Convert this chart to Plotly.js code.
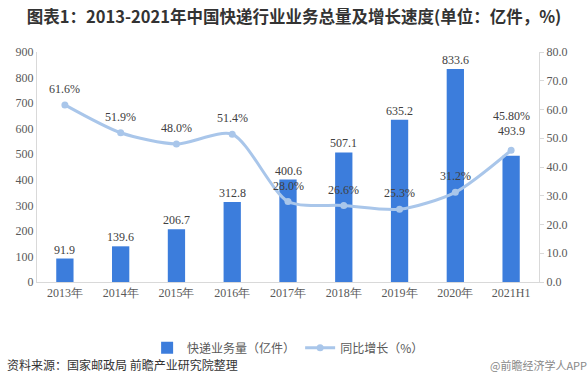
<!DOCTYPE html>
<html>
<head>
<meta charset="utf-8">
<script src="https://cdn.plot.ly/plotly-3.0.1.min.js"></script>
<style>html,body{margin:0;padding:0;background:#fff;}#chart{width:588px;height:381px;}</style>
</head>
<body>
<div id="chart"></div>
<script>
const categories = ['2013年','2014年','2015年','2016年','2017年','2018年','2019年','2020年','2021H1'];
const volume = [91.9, 139.6, 206.7, 312.8, 400.6, 507.1, 635.2, 833.6, 493.9];
const growth = [61.6, 51.9, 48.0, 51.4, 28.0, 26.6, 25.3, 31.2, 45.8];
const growthLabels = ['61.6%','51.9%','48.0%','51.4%','28.0%','26.6%','25.3%','31.2%','45.80%'];
const leftTicks = [0,100,200,300,400,500,600,700,800,900];
const rightTicks = [0,10,20,30,40,50,60,70,80];

const serif = '"Liberation Serif", "Times New Roman", serif';
const cjk = '"Noto Sans CJK SC", sans-serif';

const bars = {
  type: 'bar', name: '快递业务量（亿件）',
  x: categories, y: volume,
  marker: {color: '#3c7ddc'},
  width: 0.31,
  hoverinfo: 'skip'
};
const line = {
  type: 'scatter', name: '同比增长（%）',
  x: categories, y: growth, yaxis: 'y2',
  mode: 'lines+markers',
  line: {color: '#a9c6ea', width: 3, shape: 'spline', smoothing: 0.75},
  marker: {color: '#a9c6ea', size: 7},
  cliponaxis: false,
  hoverinfo: 'skip'
};

const labelFont = {family: serif, size: 12, color: '#404040'};
const last = categories.length - 1;
const barLabels = categories.map((c, i) => ({
  x: c, y: volume[i], xref: 'x', yref: 'y', text: volume[i].toFixed(1),
  showarrow: false, yanchor: 'bottom', yshift: i === last ? 16 : 0, font: labelFont
}));
const lineLabels = categories.map((c, i) => ({
  x: c, y: growth[i], xref: 'x', yref: 'y2', text: growthLabels[i],
  showarrow: false, yanchor: 'bottom', yshift: i === last ? 25 : 7, font: labelFont
}));

const layout = {
  width: 588, height: 381,
  margin: {l: 37, r: 49, t: 52, b: 99},
  paper_bgcolor: '#fff', plot_bgcolor: '#fff',
  title: {text: '<b>图表1：2013-2021年中国快递行业业务总量及增长速度(单位：亿件，%)</b>',
          font: {family: cjk, size: 16.5, color: '#333'}, x: 0.5, xanchor: 'center', y: 0.955, yanchor: 'middle'},
  xaxis: {showline: true, linecolor: '#d9d9d9', linewidth: 1, ticks: '', showgrid: false,
          tickfont: {family: serif, size: 12, color: '#595959'}, range: [-0.5, 8.5]},
  yaxis: {range: [0, 900], tickvals: leftTicks, showgrid: false, zeroline: false,
          showline: true, linecolor: '#d9d9d9', ticks: '',
          tickfont: {family: serif, size: 12, color: '#595959'}},
  yaxis2: {range: [0, 80], tickvals: rightTicks, overlaying: 'y', side: 'right',
           showgrid: false, zeroline: false, showline: true, linecolor: '#d9d9d9',
           ticks: 'outside', ticklen: 4, tickcolor: '#d9d9d9',
           tickformat: '.1f', ticksuffix: '%',
           tickfont: {family: serif, size: 12, color: '#595959'}},
  showlegend: true,
  legend: {orientation: 'h', xref: 'container', yref: 'container', x: 0.49, xanchor: 'center',
           y: 0.087, yanchor: 'middle', font: {family: cjk, size: 12, color: '#595959'},
           itemwidth: 30, tracegroupgap: 0, traceorder: 'normal'},
  annotations: barLabels.concat(lineLabels, [
    {text: '资料来源：国家邮政局 前瞻产业研究院整理', xref: 'paper', yref: 'paper',
     x: -0.063, y: -0.36, xanchor: 'left', yanchor: 'middle', showarrow: false,
     font: {family: cjk, size: 12, color: '#333'}},
    {text: '@前瞻经济学人APP', xref: 'paper', yref: 'paper',
     x: 1.1, y: -0.36, xanchor: 'right', yanchor: 'middle', showarrow: false,
     font: {family: cjk, size: 11, color: '#888'}}
  ])
};

Plotly.newPlot('chart', [bars, line], layout, {displayModeBar: false, staticPlot: true});
</script>
</body>
</html>
